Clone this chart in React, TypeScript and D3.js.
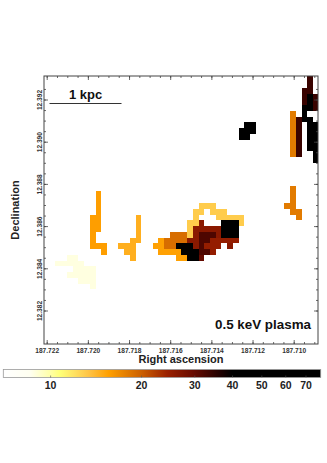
import React, { useEffect, useRef } from "react";
import * as d3 from "d3";

// temperature map, each run is [row, first col, last col, value] on the 1 arcsec grid
type Run = [number, number, number, number];

const paleFilament: Run[] = [
  [31, 4, 5, 8.9],
  [32, 2, 6, 8.9],
  [33, 5, 8, 8.9],
  [34, 4, 8, 8.9],
  [35, 6, 8, 8.9],
  [36, 8, 8, 8.9],
];
const orangeFilament: Run[] = [
  [20, 9, 9, 15.7],
  [21, 9, 9, 15.7],
  [22, 9, 9, 15.7],
  [23, 9, 9, 15.7],
  [24, 8, 9, 15.7],
  [25, 8, 9, 15.7],
  [26, 8, 9, 15.7],
  [27, 8, 8, 15.7],
  [28, 8, 8, 15.7],
  [29, 8, 10, 15.7],
  [30, 10, 10, 15.7],
];
const lightFilament: Run[] = [
  [24, 16, 16, 14.6],
  [25, 16, 16, 14.6],
  [26, 16, 16, 14.6],
  [27, 16, 16, 14.6],
  [28, 15, 16, 14.6],
  [29, 13, 15, 14.6],
  [30, 14, 15, 14.6],
  [31, 15, 15, 14.6],
];
const yellowArc: Run[] = [
  [22, 27, 29, 13],
  [23, 26, 27, 13],
  [23, 29, 31, 13],
  [24, 26, 26, 13],
  [24, 30, 34, 13],
  [25, 25, 26, 13],
  [25, 34, 34, 13],
  [26, 25, 25, 13],
  [27, 25, 25, 13],
];
const nucleus: Run[] = [
  [25, 27, 27, 26],
  [26, 26, 30, 26],
  [27, 22, 24, 19],
  [27, 26, 26, 26],
  [27, 27, 29, 32],
  [27, 30, 30, 26],
  [28, 20, 20, 15.5],
  [28, 21, 24, 19],
  [28, 25, 26, 26],
  [28, 27, 28, 32],
  [28, 29, 33, 25],
  [29, 19, 20, 15.5],
  [29, 21, 22, 19],
  [29, 23, 25, 48],
  [29, 26, 26, 26],
  [29, 27, 27, 32],
  [29, 28, 30, 25],
  [29, 32, 32, 26],
  [30, 20, 23, 15.5],
  [30, 24, 26, 48],
  [30, 27, 28, 32],
  [30, 29, 29, 25],
  [31, 23, 24, 15.5],
  [31, 25, 26, 48],
  [31, 27, 27, 30],
];
const hotKnot: Run[] = [
  [25, 31, 33, 48],
  [26, 31, 33, 48],
  [27, 31, 33, 48],
];
const blackKnot: Run[] = [
  [8, 35, 36, 48],
  [9, 34, 36, 48],
  [10, 34, 35, 48],
];
const edgeFilament: Run[] = [
  [-1, 46, 46, 34],
  [0, 46, 46, 34],
  [1, 46, 46, 34],
  [2, 45, 46, 34],
  [3, 45, 45, 34],
  [3, 46, 46, 48],
  [3, 47, 47, 34],
  [4, 45, 45, 34],
  [4, 46, 46, 48],
  [4, 47, 47, 34],
  [5, 45, 46, 48],
  [5, 47, 47, 34],
  [6, 45, 45, 48],
  [6, 43, 43, 18],
  [7, 43, 43, 18],
  [7, 44, 44, 34],
  [7, 45, 46, 48],
  [8, 43, 43, 18],
  [8, 44, 44, 34],
  [8, 46, 47, 48],
  [9, 43, 43, 18],
  [9, 44, 44, 34],
  [9, 46, 47, 48],
  [10, 43, 43, 18],
  [10, 44, 44, 34],
  [10, 46, 47, 48],
  [11, 43, 43, 18],
  [11, 44, 44, 34],
  [11, 46, 47, 48],
  [12, 43, 43, 18],
  [12, 44, 44, 34],
  [12, 46, 47, 48],
  [13, 47, 47, 48],
  [13, 43, 43, 18],
  [13, 44, 44, 34],
  [14, 47, 47, 48],
];
const lowerOrange: Run[] = [
  [19, 43, 43, 18],
  [20, 43, 43, 18],
  [21, 43, 43, 18],
  [22, 42, 43, 18],
  [23, 43, 44, 18],
  [24, 44, 44, 18],
];
const allRuns = [
  paleFilament,
  orangeFilament,
  lightFilament,
  yellowArc,
  nucleus,
  hotKnot,
  blackKnot,
  edgeFilament,
  lowerOrange,
].flat();

const raTicks = [187.722, 187.72, 187.718, 187.716, 187.714, 187.712, 187.71];
const raMinorTicks = d3.range(0, 29).map((i) => 187.7225 - i * 0.0005);
const decTicks = [12.392, 12.39, 12.388, 12.386, 12.384, 12.382];
const decMinorTicks = d3.range(0, 22).map((i) => 12.3925 - i * 0.0005);

const barTicks = [10, 20, 30, 40, 50, 60, 70];
const colorValues = [7, 8.6, 10, 10.8, 12.1, 13.6, 15.6, 20, 24.4, 29.7, 36.5, 40, 78.6];
const colorRange = [
  "#ffffff",
  "#fffff0",
  "#ffffa8",
  "#ffff78",
  "#ffe060",
  "#ffc040",
  "#ffa000",
  "#cc6000",
  "#9a2000",
  "#680a00",
  "#200000",
  "#000000",
  "#000000",
];

const raOrigin = 187.72213;
const decOrigin = 12.3931;
const raStep = 0.000278;
const decStep = 0.000273;

export default function App() {
  const svgRef = useRef<SVGSVGElement>(null);
  const frame = { left: 44, right: 318, top: 76, bottom: 344 };
  const frameColor = "#444";

  useEffect(() => {
    const svg = d3.select(svgRef.current);
    svg.selectAll("*").remove();
    const font = "'Liberation Sans', Arial, sans-serif";

    const xScale = d3
      .scaleLinear()
      .domain([187.722, 187.71])
      .range([46.7, 293.7]);
    const yScale = d3
      .scaleLinear()
      .domain([12.392, 12.382])
      .range([99.5, 310.5]);
    const barScale = d3.scaleLog().domain([7, 78.6]).range([3.3, 320.7]);
    const color = d3
      .scaleLog<string>()
      .domain(colorValues)
      .range(colorRange)
      .clamp(true);

    svg
      .append("clipPath")
      .attr("id", "plot")
      .append("rect")
      .attr("x", frame.left)
      .attr("y", frame.top)
      .attr("width", frame.right - frame.left)
      .attr("height", frame.bottom - frame.top);

    // temperature cells
    svg
      .append("g")
      .attr("clip-path", "url(#plot)")
      .attr("shape-rendering", "crispEdges")
      .selectAll("rect")
      .data(allRuns)
      .join("rect")
      .attr("x", (d) => xScale(raOrigin - d[1] * raStep))
      .attr("y", (d) => yScale(decOrigin - d[0] * decStep))
      .attr("width", (d) => xScale(raOrigin - (d[2] + 1) * raStep) - xScale(raOrigin - d[1] * raStep))
      .attr("height", yScale(0) - yScale(decStep))
      .attr("fill", (d) => color(d[3]));

    // frame
    svg
      .append("rect")
      .attr("x", frame.left)
      .attr("y", frame.top)
      .attr("width", frame.right - frame.left)
      .attr("height", frame.bottom - frame.top)
      .attr("fill", "none")
      .attr("stroke", frameColor)
      .attr("stroke-width", 1);

    const raFormat = d3.format(".3f");
    const decFormat = d3.format(".3f");

    const styleAxis = (g: any) => {
      g.select(".domain").remove();
      g.selectAll("line").attr("stroke", frameColor).attr("stroke-width", 0.8);
      g.selectAll("text")
        .attr("font-family", font)
        .attr("font-size", 6.6)
        .attr("font-weight", "bold")
        .attr("fill", "#333");
    };

    // minor ticks on all four sides
    const minorX = raMinorTicks.filter((v) => v < 187.7222 && v > 187.7088);
    const minorY = decMinorTicks.filter((v) => v < 12.393 && v > 12.3808);
    svg.append("g").attr("transform", `translate(0,${frame.bottom})`)
      .call(d3.axisTop(xScale).tickValues(minorX).tickSize(2).tickFormat(() => "")).call(styleAxis);
    svg.append("g").attr("transform", `translate(0,${frame.top})`)
      .call(d3.axisBottom(xScale).tickValues(minorX).tickSize(2).tickFormat(() => "")).call(styleAxis);
    svg.append("g").attr("transform", `translate(${frame.left},0)`)
      .call(d3.axisRight(yScale).tickValues(minorY).tickSize(2).tickFormat(() => "")).call(styleAxis);
    svg.append("g").attr("transform", `translate(${frame.right},0)`)
      .call(d3.axisLeft(yScale).tickValues(minorY).tickSize(2).tickFormat(() => "")).call(styleAxis);

    // major ticks
    svg.append("g").attr("transform", `translate(0,${frame.top})`)
      .call(d3.axisBottom(xScale).tickValues(raTicks).tickSize(4).tickFormat(() => "")).call(styleAxis);
    svg.append("g").attr("transform", `translate(${frame.right},0)`)
      .call(d3.axisLeft(yScale).tickValues(decTicks).tickSize(4).tickFormat(() => "")).call(styleAxis);

    const bottomAxis = svg.append("g").attr("transform", `translate(0,${frame.bottom})`)
      .call(d3.axisTop(xScale).tickValues(raTicks).tickSize(4).tickFormat((d) => raFormat(d as number)))
      .call(styleAxis);
    bottomAxis.selectAll("text").attr("dy", 0).attr("y", 8.5).attr("text-anchor", "middle");

    const leftAxis = svg.append("g").attr("transform", `translate(${frame.left},0)`)
      .call(d3.axisRight(yScale).tickValues(decTicks).tickSize(4).tickFormat((d) => decFormat(d as number)))
      .call(styleAxis);
    leftAxis
      .selectAll("text")
      .attr("x", 0)
      .attr("y", 0)
      .attr("dy", 0)
      .attr("text-anchor", "middle")
      .attr("transform", "translate(-2.5,0) rotate(-90)");

    // axis titles
    svg.append("text").attr("x", 181).attr("y", 363).attr("text-anchor", "middle")
      .attr("font-family", font).attr("font-size", 11).attr("font-weight", "bold").attr("fill", "#222")
      .text("Right ascension");
    svg.append("text").attr("transform", "translate(19,210) rotate(-90)").attr("text-anchor", "middle")
      .attr("font-family", font).attr("font-size", 11).attr("font-weight", "bold").attr("fill", "#222")
      .text("Declination");

    // annotations
    svg.append("text").attr("x", 85.5).attr("y", 99).attr("text-anchor", "middle")
      .attr("font-family", font).attr("font-size", 13).attr("font-weight", "bold").attr("fill", "#111")
      .text("1 kpc");
    svg.append("line").attr("x1", 49.5).attr("x2", 121.5).attr("y1", 103.5).attr("y2", 103.5)
      .attr("stroke", "#333").attr("stroke-width", 1);
    svg.append("text").attr("x", 311).attr("y", 328.5).attr("text-anchor", "end")
      .attr("font-family", font).attr("font-size", 13.4).attr("font-weight", "bold").attr("fill", "#111")
      .text("0.5 keV plasma");

    // colour bar
    const gradient = svg.append("linearGradient").attr("id", "bar");
    colorValues.forEach((v, i) => {
      gradient
        .append("stop")
        .attr("offset", (barScale(v) - 3.3) / (320.7 - 3.3))
        .attr("stop-color", colorRange[i]);
    });
    svg.append("rect").attr("x", 3.3).attr("y", 369.5).attr("width", 317.4).attr("height", 8)
      .attr("fill", "url(#bar)").attr("stroke", "#999").attr("stroke-width", 0.8);

    const barAxis = svg.append("g").attr("transform", "translate(0,377.5)")
      .call(d3.axisTop(barScale).tickValues(barTicks).tickSize(2).tickFormat((d) => String(d)));
    barAxis.select(".domain").remove();
    barAxis.selectAll("line").attr("stroke", "#555").attr("stroke-width", 0.6);
    barAxis
      .selectAll("text")
      .attr("y", 11.5)
      .attr("dy", 0)
      .attr("font-family", font)
      .attr("font-size", 10.5)
      .attr("font-weight", "bold")
      .attr("fill", "#222");
  }, []);

  return (
    <svg
      ref={svgRef}
      width={327}
      height={463}
      style={{ position: "absolute", left: 0, top: 0, background: "#fff" }}
    ></svg>
  );
}
